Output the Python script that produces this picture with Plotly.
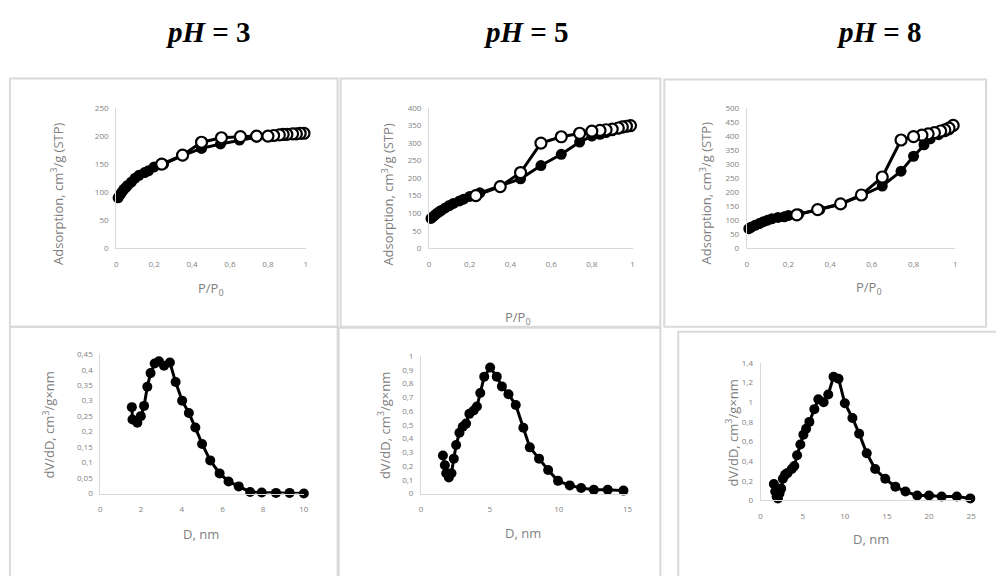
import plotly.graph_objects as go

W, H = 996, 576

# ---------------- data ----------------
# pH 3 isotherm
p3_ads_x = [0.01, 0.02, 0.03, 0.04, 0.05, 0.06, 0.08, 0.10, 0.12, 0.15, 0.17, 0.20, 0.25, 0.35, 0.45, 0.55, 0.65, 0.74, 0.80, 0.84, 0.87, 0.90, 0.93, 0.95, 0.97, 0.99]
p3_ads_y = [90, 95, 100, 105, 108, 112, 118, 125, 130, 135, 138, 145, 150, 165, 178, 186, 193, 198, 200, 201, 201, 202, 203, 203, 204, 204]
p3_des_x = [0.99, 0.97, 0.95, 0.93, 0.90, 0.88, 0.86, 0.83, 0.80, 0.74, 0.655, 0.555, 0.45, 0.35, 0.24]
p3_des_y = [205, 205, 204, 204, 203, 203, 202, 201, 200, 200, 199, 197, 189, 166, 150]

# pH 5 isotherm
p5_ads_x = [0.01, 0.02, 0.03, 0.04, 0.05, 0.06, 0.08, 0.10, 0.12, 0.15, 0.17, 0.20, 0.25, 0.35, 0.45, 0.55, 0.65, 0.74, 0.80, 0.84, 0.87, 0.90, 0.93, 0.95, 0.97, 0.99]
p5_ads_y = [85, 90, 95, 100, 104, 108, 115, 122, 128, 135, 140, 148, 158, 178, 198, 236, 268, 303, 320, 325, 330, 335, 340, 343, 346, 348]
p5_des_x = [0.99, 0.97, 0.95, 0.93, 0.90, 0.87, 0.84, 0.80, 0.74, 0.65, 0.55, 0.45, 0.35, 0.23]
p5_des_y = [350, 348, 346, 343, 340, 338, 336, 334, 328, 318, 300, 216, 176, 150]

# pH 8 isotherm
p8_ads_x = [0.01, 0.02, 0.04, 0.06, 0.08, 0.10, 0.12, 0.15, 0.18, 0.20, 0.25, 0.35, 0.45, 0.55, 0.65, 0.74, 0.80, 0.85, 0.88, 0.92, 0.95, 0.97, 0.99]
p8_ads_y = [70, 75, 82, 88, 95, 100, 105, 110, 112, 117, 122, 138, 158, 188, 222, 275, 328, 369, 390, 405, 415, 422, 435]
p8_des_x = [0.99, 0.97, 0.95, 0.93, 0.90, 0.87, 0.84, 0.80, 0.74, 0.65, 0.55, 0.45, 0.34, 0.24]
p8_des_y = [438, 428, 422, 418, 412, 408, 403, 398, 386, 254, 190, 158, 138, 119]

# pore size distributions
d3_x = [1.55, 1.58, 1.82, 1.99, 2.15, 2.31, 2.47, 2.67, 2.88, 3.13, 3.42, 3.70, 4.02, 4.35, 4.67, 5.00, 5.40, 5.86, 6.30, 6.80, 7.36, 7.93, 8.63, 9.30, 10.0]
d3_y = [0.279, 0.239, 0.229, 0.250, 0.283, 0.345, 0.389, 0.420, 0.427, 0.413, 0.423, 0.360, 0.300, 0.260, 0.213, 0.160, 0.107, 0.065, 0.039, 0.023, 0.005, 0.003, 0.002, 0.002, 0.0]

d5_x = [1.59, 1.73, 1.83, 2.02, 2.21, 2.38, 2.55, 2.79, 3.03, 3.27, 3.51, 3.82, 4.06, 4.30, 4.59, 5.02, 5.50, 5.87, 6.35, 6.88, 7.43, 7.90, 8.57, 9.23, 9.95, 10.8, 11.63, 12.55, 13.56, 14.7]
d5_y = [0.277, 0.206, 0.147, 0.116, 0.147, 0.254, 0.353, 0.443, 0.486, 0.509, 0.580, 0.604, 0.633, 0.732, 0.851, 0.917, 0.851, 0.780, 0.723, 0.645, 0.479, 0.336, 0.254, 0.171, 0.092, 0.059, 0.040, 0.028, 0.028, 0.021]

d8_x = [1.57, 1.73, 1.90, 2.05, 2.24, 2.44, 2.64, 2.90, 3.20, 3.70, 4.00, 4.33, 4.72, 5.08, 5.40, 5.79, 6.38, 6.85, 7.48, 8.03, 8.66, 9.25, 10.0, 10.9, 11.7, 12.6, 13.6, 14.8, 16.0, 17.2, 18.6, 20.0, 21.5, 23.3, 24.9]
d8_y = [0.167, 0.09, 0.04, 0.02, 0.07, 0.12, 0.22, 0.26, 0.28, 0.32, 0.35, 0.46, 0.57, 0.67, 0.73, 0.80, 0.93, 1.03, 1.00, 1.08, 1.26, 1.24, 0.99, 0.84, 0.68, 0.48, 0.32, 0.22, 0.14, 0.09, 0.05, 0.05, 0.04, 0.04, 0.02]

titles = ["<b><i>pH</i> = 3</b>", "<b><i>pH</i> = 5</b>", "<b><i>pH</i> = 8</b>"]

# ---------------- layout helpers ----------------
def px(x):
    return x / W

def py(y):
    return 1 - y / H

fig = go.Figure()

FONT = "Open Sans"
TICKC = "#7f7f7f"
TITLEC = "#7f7f7f"
AXC = "#d9d9d9"

panels = [
    # (x0,x1,ybot,ytop, xrange, xdtick, yrange, ydtick)
    (115, 306, 247, 104, [0, 1], 0.2, [0, 250], 50),
    (430, 635, 247, 104, [0, 1], 0.2, [0, 400], 50),
    (750, 960, 247, 104, [0, 1], 0.2, [0, 500], 50),
    (99, 304, 497, 355, [0, 10], 2, [0, 0.45], 0.05),
    (422, 630, 497, 357, [0, 15], 5, [0, 1], 0.1),
    (764, 976, 504, 364, [0, 25], 5, [0, 1.4], 0.2),
]

for i, (x0, x1, yb, yt, xr, xd, yr, yd) in enumerate(panels, start=1):
    sfx = "" if i == 1 else str(i)
    xa = dict(domain=[px(x0), px(x1)], range=xr, dtick=xd, tick0=0,
              showline=True, linecolor=AXC, linewidth=1, showgrid=False,
              zeroline=False, ticks="", ticklabelstandoff=8,
              tickfont=dict(family=FONT, size=8, color=TICKC),
              anchor="y" + sfx)
    ya = dict(domain=[py(yb), py(yt)], range=yr, dtick=yd, tick0=0,
              showline=True, linecolor=AXC, linewidth=1, showgrid=False,
              zeroline=False, ticks="", ticklabelstandoff=5,
              tickfont=dict(family=FONT, size=8, color=TICKC),
              anchor="x" + sfx)
    fig.layout["xaxis" + sfx] = xa
    fig.layout["yaxis" + sfx] = ya

def add_line(x, y, i, open_=False, size=11):
    ax = "" if i == 1 else str(i)
    fig.add_trace(go.Scatter(
        x=x, y=y, xaxis="x" + ax, yaxis="y" + ax, mode="lines+markers",
        line=dict(color="black", width=3),
        marker=dict(size=size, color="white" if open_ else "black",
                    line=dict(color="black", width=2.2 if open_ else 0)),
        showlegend=False, hoverinfo="skip", cliponaxis=False))

add_line(p3_ads_x, p3_ads_y, 1)
add_line(p3_des_x, p3_des_y, 1, open_=True)
add_line(p5_ads_x, p5_ads_y, 2)
add_line(p5_des_x, p5_des_y, 2, open_=True)
add_line(p8_ads_x, p8_ads_y, 3)
add_line(p8_des_x, p8_des_y, 3, open_=True)
add_line(d3_x, d3_y, 4, size=10)
add_line(d5_x, d5_y, 5, size=10)
add_line(d8_x, d8_y, 6, size=10)

# panel frames
boxes = [(8, 74, 338, 327), (341, 74, 663, 327), (667, 75, 991, 327),
         (8, 327, 338, 590), (339, 328, 663, 590), (681, 332, 1005, 590)]
for (a, b, c, d) in boxes:
    fig.add_shape(type="rect", xref="paper", yref="paper",
                  x0=px(a), x1=px(c), y0=py(d), y1=py(b),
                  line=dict(color="#d9d9d9", width=2), layer="below")

ann = []
# column titles
for t, cx in zip(titles, [207, 528, 883]):
    ann.append(dict(text=t, x=px(cx), y=py(27), xref="paper", yref="paper",
                    showarrow=False, xanchor="center", yanchor="middle",
                    font=dict(family="Liberation Serif", size=29, color="black")))

ytitle_ads = "Adsorption, cm<sup>3</sup>/g (STP)"
ytitle_psd = "dV/dD, cm<sup>3</sup>/g×nm"
ypos = [(55, 191, ytitle_ads), (388, 192, ytitle_ads), (708, 191, ytitle_ads),
        (47, 427, ytitle_psd), (385, 428, ytitle_psd), (735, 435, ytitle_psd)]
for (x, y, t) in ypos:
    ann.append(dict(text=t, x=px(x), y=py(y), xref="paper", yref="paper",
                    showarrow=False, textangle=-90, xanchor="center", yanchor="middle",
                    font=dict(family=FONT, size=13, color=TITLEC)))

xpos = [(210, 288, "P/P<sub>0</sub>"), (520, 318, "P/P<sub>0</sub>"), (873, 287, "P/P<sub>0</sub>"),
        (200, 538, "D, nm"), (525, 537, "D, nm"), (875, 543, "D, nm")]
for (x, y, t) in xpos:
    ann.append(dict(text=t, x=px(x), y=py(y), xref="paper", yref="paper",
                    showarrow=False, xanchor="center", yanchor="middle",
                    font=dict(family=FONT, size=13, color=TITLEC)))

fig.update_layout(width=W, height=H, margin=dict(l=0, r=0, t=0, b=0),
                  paper_bgcolor="white", plot_bgcolor="white",
                  separators=", ", annotations=ann, showlegend=False)

fig.write_html("out.html", config={"displayModeBar": False},
               post_script="document.body.style.margin='0';document.body.style.overflow='hidden';")
